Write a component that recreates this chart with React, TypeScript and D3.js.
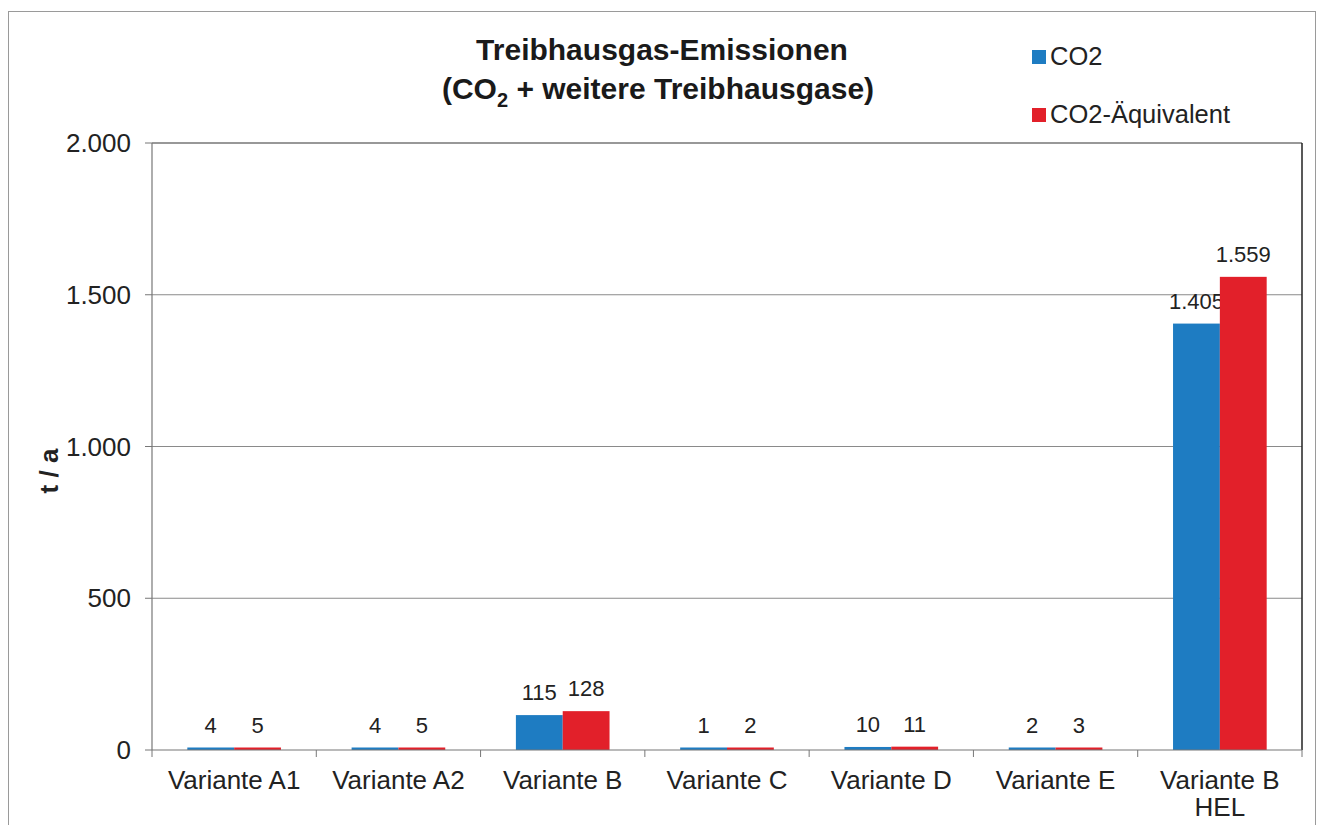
import React from "react";
import * as d3 from "d3";

const categories = [
  ["Variante A1"],
  ["Variante A2"],
  ["Variante B"],
  ["Variante C"],
  ["Variante D"],
  ["Variante E"],
  ["Variante B", "HEL"],
];
const co2 = [4, 4, 115, 1, 10, 2, 1405];
const co2eq = [5, 5, 128, 2, 11, 3, 1559];
const yTicks = [0, 500, 1000, 1500, 2000];
const seriesNames = ["CO2", "CO2-Äquivalent"];
const colors = ["#1e7cc2", "#e2202a"];

const fmt = (v: number) => d3.format(",")(v).replace(/,/g, ".");

const App = () => {
  const width = 1318;
  const height = 825;
  const left = 152;
  const right = 1302;
  const top = 143;
  const bottom = 750;
  const font = "'Liberation Sans', Arial, sans-serif";

  const x = d3.scaleBand<number>().domain(d3.range(categories.length)).range([left, right]);
  const y = d3.scaleLinear().domain([0, 2000]).range([bottom, top]);
  const barW = x.bandwidth() * 0.285;
  const series = [co2, co2eq];

  return (
    <svg width={width} height={height} style={{ position: "absolute", left: 0, top: 0, background: "#fff" }} fontFamily={font}>
      <rect x={8.5} y={11.5} width={1307} height={830} fill="none" stroke="#9a9a9a" strokeWidth={1} />

      {/* title */}
      <text x={662} y={60} textAnchor="middle" fontSize={30} fontWeight="bold" fill="#1a1a1a">
        Treibhausgas-Emissionen
      </text>
      <text x={658} y={99} textAnchor="middle" fontSize={30} fontWeight="bold" fill="#1a1a1a">
        (CO<tspan fontSize={20} dy={8}>2</tspan>
        <tspan dy={-8}> + weitere Treibhausgase)</tspan>
      </text>

      {/* legend */}
      {seriesNames.map((n, i) => (
        <g key={n}>
          <rect x={1032} y={50 + i * 58} width={14} height={14} fill={colors[i]} />
          <text x={1050} y={65 + i * 58} fontSize={25.5} fill="#222">{n}</text>
        </g>
      ))}

      {/* grid */}
      {yTicks.map((t) => (
        <g key={t}>
          {t > 0 && <line x1={left} x2={right} y1={y(t)} y2={y(t)} stroke={t === 2000 ? "#333" : "#8a8a8a"} strokeWidth={1.2} />}
          <line x1={left - 7} x2={left} y1={y(t)} y2={y(t)} stroke="#777" />
          <text x={131} y={y(t) + 9} textAnchor="end" fontSize={26} fill="#222">{fmt(t)}</text>
        </g>
      ))}
      <line x1={right} x2={right} y1={top} y2={bottom} stroke="#222" strokeWidth={1.5} />
      <line x1={left} x2={left} y1={top} y2={bottom} stroke="#777" strokeWidth={1.2} />

      <text transform={`translate(58,471) rotate(-90)`} textAnchor="middle" fontSize={26} fontWeight="bold" fill="#222">
        t / a
      </text>

      {/* bars */}
      {categories.map((c, i) => {
        const cx = (x(i) as number) + x.bandwidth() / 2;
        return (
          <g key={i}>
            {series.map((s, j) => {
              const bx = cx - barW + j * barW;
              const h = Math.max(bottom - y(s[i]), 2.5);
              return (
                <g key={j}>
                  <rect x={bx} y={bottom - h} width={barW} height={h} fill={colors[j]} />
                  <text x={bx + barW / 2} y={bottom - h - 15} textAnchor="middle" fontSize={22} fill="#222">
                    {fmt(s[i])}
                  </text>
                </g>
              );
            })}
            {c.map((l, k) => (
              <text key={k} x={cx} y={789 + k * 27} textAnchor="middle" fontSize={26} fill="#222">{l}</text>
            ))}
          </g>
        );
      })}

      {/* x axis */}
      <line x1={left} x2={right} y1={bottom} y2={bottom} stroke="#777" strokeWidth={1.2} />
      {d3.range(categories.length + 1).map((i) => {
        const tx = left + i * x.step();
        return <line key={i} x1={tx} x2={tx} y1={bottom} y2={bottom + 7} stroke="#777" />;
      })}
    </svg>
  );
};

export default App;
